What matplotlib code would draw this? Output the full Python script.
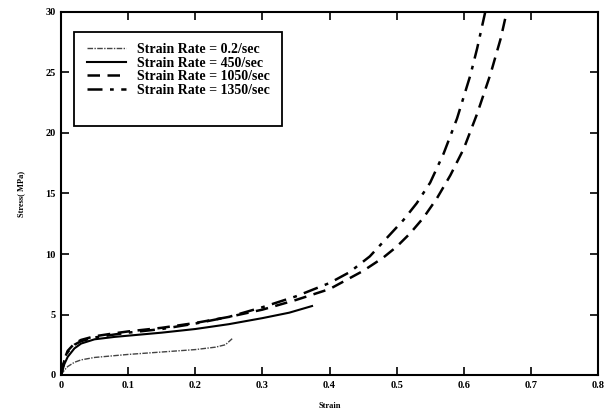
import matplotlib
matplotlib.use("Agg")
import matplotlib.pyplot as plt
from matplotlib.lines import Line2D
from matplotlib.patches import Rectangle

plt.rcParams['font.family'] = ['Liberation Serif', 'DejaVu Serif']
plt.rcParams['font.weight'] = 'bold'

labels = ["Strain Rate = 0.2/sec", "Strain Rate = 450/sec",
          "Strain Rate = 1050/sec", "Strain Rate = 1350/sec"]

strain_02 = [0, 0.005, 0.01, 0.02, 0.03, 0.05, 0.08, 0.1, 0.15, 0.2, 0.23, 0.245, 0.255]
stress_02 = [0, 0.4, 0.7, 1.05, 1.25, 1.45, 1.6, 1.7, 1.9, 2.1, 2.3, 2.5, 3.0]

strain_450 = [0, 0.005, 0.01, 0.02, 0.03, 0.05, 0.08, 0.1, 0.15, 0.2, 0.25, 0.3, 0.34, 0.374]
stress_450 = [0, 0.9, 1.5, 2.2, 2.6, 2.95, 3.15, 3.25, 3.5, 3.8, 4.2, 4.7, 5.15, 5.7]

strain_1050 = [0, 0.005, 0.01, 0.02, 0.03, 0.05, 0.08, 0.1, 0.15, 0.2, 0.25, 0.3, 0.35,
               0.4, 0.45, 0.48, 0.5, 0.52, 0.54, 0.56, 0.58, 0.6, 0.62, 0.64, 0.655, 0.664]
stress_1050 = [0, 1.3, 2.0, 2.6, 2.9, 3.2, 3.45, 3.6, 3.9, 4.3, 4.8, 5.4, 6.2,
               7.1, 8.6, 9.7, 10.6, 11.7, 13.0, 14.6, 16.5, 18.7, 21.6, 24.9, 27.8, 30.0]

strain_1350 = [0, 0.005, 0.01, 0.02, 0.03, 0.05, 0.08, 0.1, 0.15, 0.2, 0.25, 0.3, 0.35,
               0.4, 0.43, 0.46, 0.49, 0.51, 0.53, 0.55, 0.57, 0.59, 0.61, 0.62, 0.628, 0.632]
stress_1350 = [0, 1.2, 1.9, 2.5, 2.8, 3.1, 3.35, 3.5, 3.8, 4.25, 4.8, 5.6, 6.5,
               7.6, 8.5, 9.8, 11.6, 12.8, 14.2, 15.9, 18.3, 21.2, 24.8, 27.0, 29.0, 30.0]

xticks = [0, 0.1, 0.2, 0.3, 0.4, 0.5, 0.6, 0.7, 0.8]
xticklabels = ["0", "0.1", "0.2", "0.3", "0.4", "0.5", "0.6", "0.7", "0.8"]
yticks = [0, 5, 10, 15, 20, 25, 30]
yticklabels = ["0", "5", "10", "15", "20", "25", "30"]

fig = plt.figure(figsize=(6.11, 4.09), dpi=100)
ax = fig.add_axes([61/611, 1-375/409, (598-61)/611, (375-12)/409])

styles = [dict(color='#444444', lw=1.0, linestyle=(0, (4, 1, 1, 1))),
          dict(color='black', lw=1.5, linestyle='-'),
          dict(color='black', lw=1.8, linestyle=(0, (5, 3))),
          dict(color='black', lw=1.8, linestyle=(0, (6, 3, 1.5, 3)))]

ax.plot(strain_02, stress_02, **styles[0])
ax.plot(strain_450, stress_450, **styles[1])
ax.plot(strain_1050, stress_1050, **styles[2])
ax.plot(strain_1350, stress_1350, **styles[3])

ax.set_xlim(0, 0.8)
ax.set_ylim(0, 30)
ax.set_xticks(xticks)
ax.set_xticklabels(xticklabels)
ax.set_yticks(yticks)
ax.set_yticklabels(yticklabels)
ax.tick_params(direction='in', length=6, width=1.2, top=True, right=True,
               labelsize=7.5, pad=4)
for s in ax.spines.values():
    s.set_linewidth(1.5)

ax.set_xlabel("Strain", fontsize=6, fontweight='bold', labelpad=9)
ax.set_ylabel("Stress( MPa)", fontsize=6, fontweight='bold', labelpad=14)

handles = [Line2D([0], [0], **st) for st in styles]
leg = ax.legend(handles, labels, loc='upper left',
                bbox_to_anchor=((80-61)/537, 1-(36-12)/363),
                frameon=False, fontsize=10, handlelength=2.8,
                handletextpad=0.8, labelspacing=0.05, borderpad=0.0)
ax.add_patch(Rectangle(((74-61)/537, 1-(126-12)/363), (282-74)/537, (126-32)/363,
                       transform=ax.transAxes, fill=False, lw=1.3, color='black'))

fig.savefig("out.png", dpi=100)
